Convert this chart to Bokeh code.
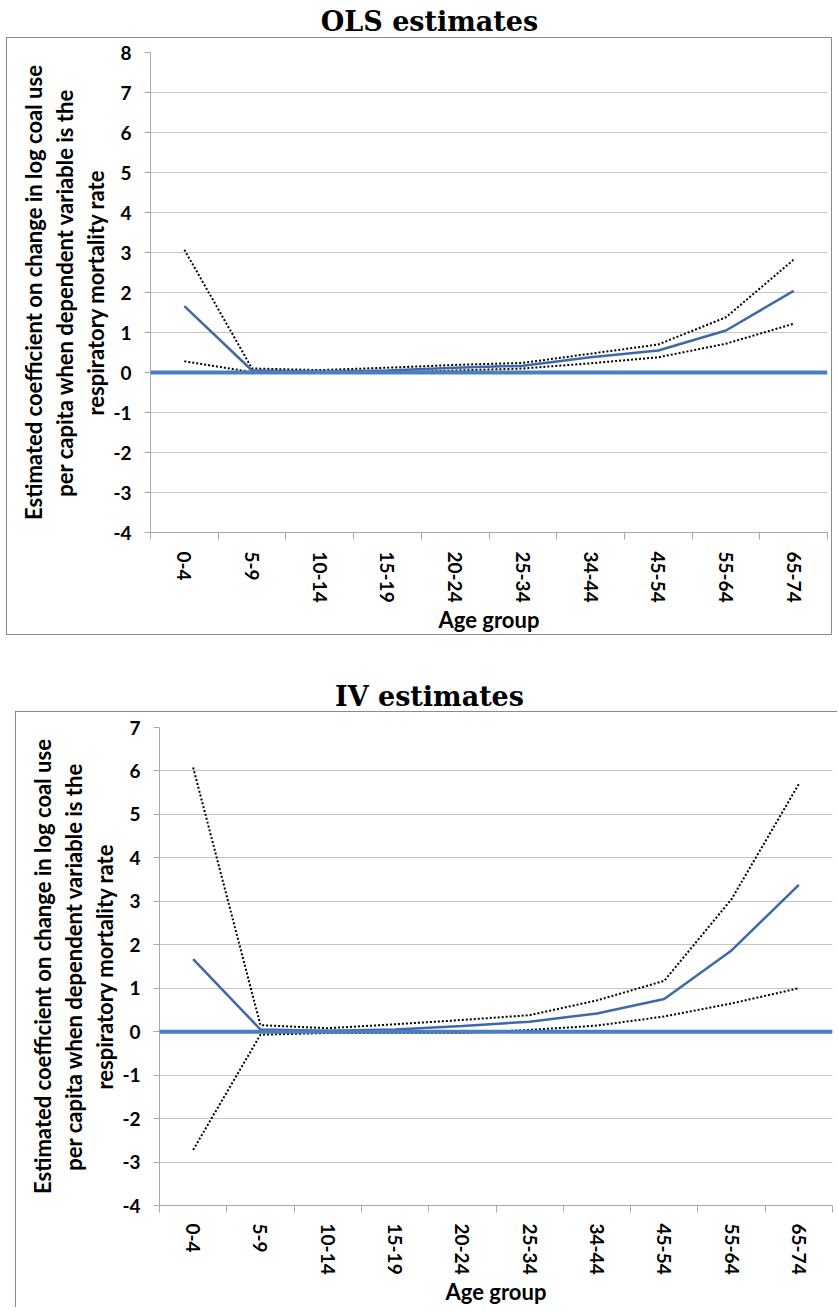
import numpy as np
from bokeh.plotting import figure
from bokeh.layouts import column
from bokeh.models import FixedTicker, Span, Label, Range1d
from bokeh.embed import file_html
from bokeh.resources import INLINE

age_groups = ["0-4", "5-9", "10-14", "15-19", "20-24", "25-34", "34-44", "45-54", "55-64", "65-74"]

ols_coef = [1.66, 0.05, 0.02, 0.05, 0.12, 0.17, 0.38, 0.55, 1.05, 2.04]
ols_upper = [3.07, 0.10, 0.06, 0.12, 0.19, 0.24, 0.47, 0.70, 1.38, 2.82]
ols_lower = [0.28, 0.01, 0.00, 0.00, 0.05, 0.10, 0.23, 0.38, 0.72, 1.22]

iv_coef = [1.67, 0.05, 0.02, 0.05, 0.13, 0.23, 0.42, 0.75, 1.87, 3.38]
iv_upper = [6.08, 0.15, 0.08, 0.17, 0.27, 0.38, 0.72, 1.17, 3.05, 5.70]
iv_lower = [-2.72, -0.07, -0.03, -0.03, -0.03, 0.04, 0.14, 0.35, 0.65, 1.00]

ols_yticks = list(range(-4, 9))
iv_yticks = list(range(-4, 8))

titles = ["OLS estimates", "IV estimates"]
y_title = ("Estimated coefficient on change in log coal use\n"
           "per capita when dependent variable is the\n"
           "respiratory mortality rate")
x_title = "Age group"

SANS = "Lato"
GRID = "#c4c4c4"
AXIS = "#a8a8a8"
BLUE = "#3F68A6"
ZERO = "#4A7EC0"
BOX = "1px solid #8a8a8a"

# common side borders (the column aligns plot frames)
BL, BR = 143, 6
PAGE_W = 838


def title_fig(text, H, cx, cy):
    t = figure(width=PAGE_W, height=H, output_backend="svg", toolbar_location=None,
               x_range=Range1d(BL, PAGE_W - BR), y_range=Range1d(0, H),
               min_border_left=BL, min_border_right=BR, min_border_top=0, min_border_bottom=0)
    t.title.visible = False
    t.axis.visible = False
    t.grid.visible = False
    t.outline_line_color = None
    t.add_layout(Label(x=cx, y=cy, text=text, text_font="DejaVu Serif",
                       text_font_style="bold", text_font_size="27px",
                       text_align="center", text_baseline="middle",
                       text_color="black"))
    return t


def make_panel(coef, upper, lower, yticks, W, H, mtop, mbot, margin, styles, lab_standoff):
    n = len(age_groups)
    xs = np.arange(n) + 0.5
    p = figure(width=W, height=H, output_backend="svg", toolbar_location=None,
               x_range=Range1d(0, n), y_range=Range1d(yticks[0], yticks[-1]),
               min_border_left=BL, min_border_right=BR,
               min_border_top=mtop, min_border_bottom=mbot,
               margin=margin, styles=styles)
    p.title.visible = False
    p.outline_line_color = None
    p.background_fill_color = "white"
    p.border_fill_color = "white"
    p.xgrid.visible = False
    p.ygrid.ticker = FixedTicker(ticks=yticks)
    p.ygrid.grid_line_color = GRID
    p.ygrid.grid_line_width = 1.2

    ya = p.yaxis[0]
    ya.ticker = FixedTicker(ticks=yticks)
    ya.major_label_overrides = {t: str(t) for t in yticks}
    ya.axis_line_color = AXIS
    ya.major_tick_line_color = AXIS
    ya.major_tick_out = 6
    ya.major_tick_in = 0
    ya.minor_tick_line_color = None
    ya.major_label_standoff = 13
    ya.major_label_text_font = SANS
    ya.major_label_text_font_style = "bold"
    ya.major_label_text_font_size = "19px"
    ya.major_label_text_color = "black"
    ya.axis_label = y_title
    ya.axis_label_text_font = SANS
    ya.axis_label_text_font_style = "bold"
    ya.axis_label_text_font_size = "22px"
    ya.axis_label_text_line_height = 1.15
    ya.axis_label_text_color = "black"
    ya.axis_label_standoff = 1

    xa = p.xaxis[0]
    xa.ticker = FixedTicker(ticks=list(xs), minor_ticks=list(range(n + 1)))
    xa.major_label_overrides = {float(x): lab for x, lab in zip(xs, age_groups)}
    xa.major_label_orientation = -np.pi / 2
    xa.axis_line_color = AXIS
    xa.major_tick_line_color = None
    xa.major_tick_out = 0
    xa.major_tick_in = 0
    xa.minor_tick_line_color = AXIS
    xa.minor_tick_out = 7
    xa.minor_tick_in = 0
    xa.major_label_standoff = lab_standoff
    xa.major_label_text_font = SANS
    xa.major_label_text_font_style = "bold"
    xa.major_label_text_font_size = "19px"
    xa.major_label_text_color = "black"
    xa.axis_label = x_title
    xa.axis_label_text_font = SANS
    xa.axis_label_text_font_style = "bold"
    xa.axis_label_text_font_size = "22px"
    xa.axis_label_text_color = "black"
    xa.axis_label_standoff = 0

    p.add_layout(Span(location=0, dimension="width", line_color=ZERO, line_width=4))

    p.line(xs, upper, line_color="black", line_width=2, line_dash="2 2")
    p.line(xs, lower, line_color="black", line_width=2, line_dash="2 2")
    p.line(xs, coef, line_color=BLUE, line_width=2.5)
    return p


t1 = title_fig(titles[0], 37, 429, 16)
p1 = make_panel(ols_coef, ols_upper, ols_lower, ols_yticks,
                826, 598, 14, 104, (0, 0, 0, 6), {"border": BOX}, 12)
t2 = title_fig(titles[1], 76, 429, 15)
p2 = make_panel(iv_coef, iv_upper, iv_lower, iv_yticks,
                822, 596, 15, 103, (0, 0, 0, 15),
                {"border-top": BOX, "border-left": BOX}, 11)

layout = column(t1, p1, t2, p2, spacing=0)
open("out.html", "w").write(file_html(layout, INLINE))
